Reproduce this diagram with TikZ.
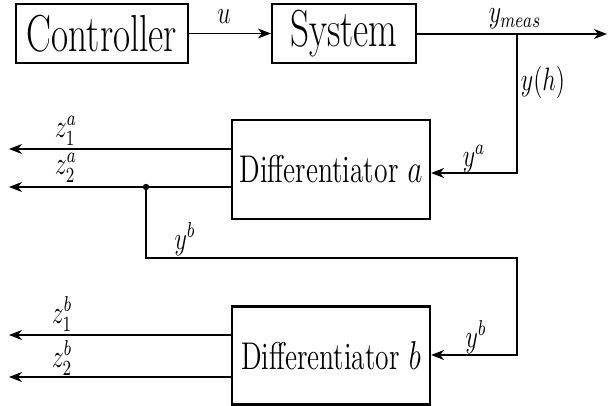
\documentclass[tikz,border=0pt]{standalone}
\usepackage{graphicx}
\usetikzlibrary{arrows.meta}
\newcommand{\vst}[1]{\scalebox{1}[1.35]{#1}}
\newcommand{\vsb}[1]{\scalebox{1}[1.4]{#1}}
\begin{document}
\begin{tikzpicture}[x=0.5pt,y=-0.5pt,
  blk/.style={draw, line width=1.1pt, inner sep=0pt},
  con/.style={line width=0.55pt},
  arr/.style={con, -{Stealth[length=6.5pt,width=5pt,inset=2pt]}},
  lbl/.style={inner sep=0pt, font=\large}]
\useasboundingbox (0,0) rectangle (610,406);
% blocks
\node[blk, minimum width=86pt, minimum height=29.5pt] (ctrl) at (102,33.5) {\vsb{\fontsize{18.6}{20}\selectfont Controller}};
\node[blk, minimum width=72pt, minimum height=29.5pt] (sys) at (344,33.5) {\vsb{\fontsize{18.6}{20}\selectfont System}};
\node[blk, minimum width=99pt, minimum height=49.5pt] (da) at (331,169.5) {\vsb{\fontsize{13.8}{16}\selectfont Differentiator $a$}};
\node[blk, minimum width=99pt, minimum height=49pt] (db) at (331,355.5) {\vsb{\fontsize{13.8}{16}\selectfont Differentiator $b$}};
% coordinates
\coordinate (yout) at (607,34);
\coordinate (br) at (517,34);
\coordinate (bra) at (517,173);
\coordinate (za1) at (9,149);
\coordinate (za2) at (9,187);
\coordinate (dot) at (146,187);
\coordinate (c1) at (146,258);
\coordinate (c2) at (517,258);
\coordinate (c3) at (517,355);
\coordinate (zb1) at (9,335);
\coordinate (zb2) at (9,377);
% connectors
\draw[arr] (ctrl.east) -- (sys.west);
\draw[arr] (sys.east |- br) -- (yout);
\draw[arr] (br) -- (bra) -- (da.east |- bra);
\draw[arr] (da.west |- za1) -- (za1);
\draw[arr] (da.west |- za2) -- (za2);
\draw[arr] (dot) -- (c1) -- (c2) -- (c3) -- (db.east |- c3);
\draw[arr] (db.west |- zb1) -- (zb1);
\draw[arr] (db.west |- zb2) -- (zb2);
\fill (dot) circle (1.6pt);
% labels
\node[lbl] (lu) at (224,17) {\vst{$u$}};
\node[lbl] (lym) at (515,19) {\vst{$y_{meas}$}};
\node[lbl] (lyh) at (543,82) {\vst{$y(h)$}};
\node[lbl] (lya) at (474,159) {\vst{$y^a$}};
\node[lbl] (lza1) at (66,131) {\vst{$z_1^a$}};
\node[lbl] (lza2) at (66,168) {\vst{$z_2^a$}};
\node[lbl] (lyb1) at (185,239) {\vst{$y^b$}};
\node[lbl] (lzb1) at (62,314) {\vst{$z_1^b$}};
\node[lbl] (lzb2) at (62,358) {\vst{$z_2^b$}};
\node[lbl] (lyb2) at (476,337) {\vst{$y^b$}};
\end{tikzpicture}
\end{document}
